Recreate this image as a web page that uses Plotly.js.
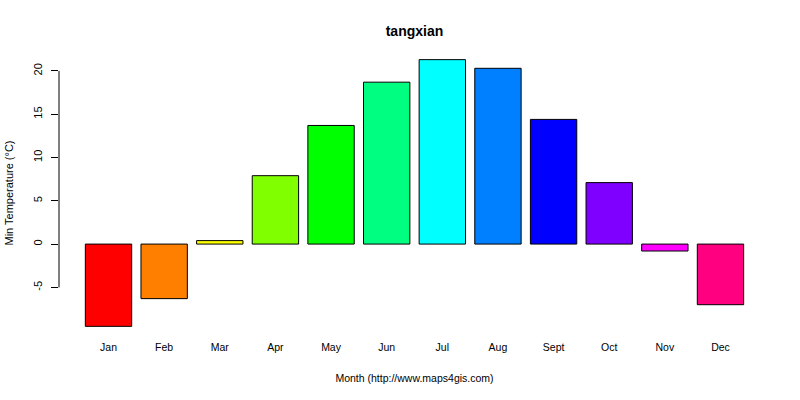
<!DOCTYPE html>
<html>
<head>
<meta charset="utf-8">
<script src="https://cdn.plot.ly/plotly-3.0.1.min.js"></script>
<style>html,body{margin:0;padding:0;background:#fff;}#chart{width:800px;height:400px;}</style>
</head>
<body>
<div id="chart"></div>
<script>
var months = ["Jan","Feb","Mar","Apr","May","Jun","Jul","Aug","Sept","Oct","Nov","Dec"];
var minTemp = [-9.5, -6.3, 0.4, 7.9, 13.7, 18.7, 21.3, 20.3, 14.4, 7.1, -0.8, -7.0];
var barColors = ["#FF0000","#FF8000","#FFFF00","#80FF00","#00FF00","#00FF80","#00FFFF","#0080FF","#0000FF","#8000FF","#FF00FF","#FF0080"];
var yTicks = [-5, 0, 5, 10, 15, 20];
var chartTitle = "tangxian";
var xTitle = "Month (http://www.maps4gis.com)";
var yTitle = "Min Temperature (°C)";

var sans = "'Liberation Sans', Arial, sans-serif";

var trace = {
  type: "bar",
  x: months,
  y: minTemp,
  marker: {color: barColors, line: {color: "#000", width: 1}},
  hoverinfo: "x+y"
};

var layout = {
  width: 800, height: 400,
  paper_bgcolor: "#fff", plot_bgcolor: "#fff",
  margin: {l: 59, r: 30, t: 49, b: 63},
  bargap: 1/6,
  showlegend: false,
  title: {text: "<b>" + chartTitle + "</b>", x: 0.5, xref: "paper", y: 0.922, yref: "container", yanchor: "middle",
          font: {family: sans, size: 14, color: "#000"}},
  xaxis: {
    type: "category",
    range: [-0.89, 11.89],
    showline: false, showgrid: false, zeroline: false,
    ticks: "",
    ticklabelstandoff: 2,
    tickfont: {family: sans, size: 10.5, color: "#000"},
    title: {text: xTitle, font: {family: sans, size: 10.5, color: "#000"}, standoff: 23}
  },
  yaxis: {
    range: [-10.73, 22.53],
    tickvals: yTicks,
    ticktext: yTicks.map(String),
    tickangle: -90,
    showline: false, showgrid: false, zeroline: false,
    ticks: "outside", ticklen: 7, tickwidth: 1, tickcolor: "#000",
    ticklabelstandoff: 5,
    tickfont: {family: sans, size: 11, color: "#000"},
    title: {text: yTitle, font: {family: sans, size: 11, color: "#000"}, standoff: 15}
  },
  shapes: [{
    type: "line", xref: "paper", yref: "y",
    x0: 0, x1: 0, y0: yTicks[0], y1: yTicks[yTicks.length - 1],
    line: {color: "#000", width: 1}
  }]
};

Plotly.newPlot("chart", [trace], layout, {displayModeBar: false, staticPlot: true});
</script>
</body>
</html>
